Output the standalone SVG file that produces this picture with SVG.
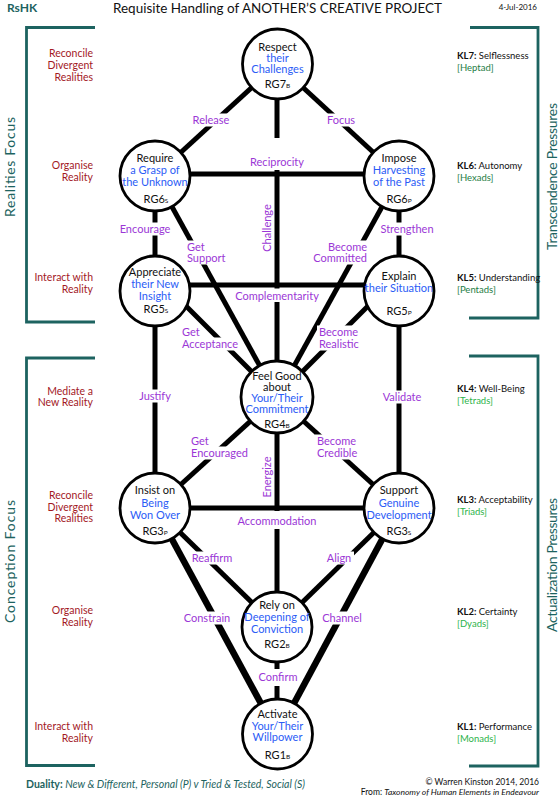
<svg xmlns="http://www.w3.org/2000/svg" width="559" height="800" viewBox="0 0 559 800">
<style>
text{font-family:Lato,"Open Sans","Liberation Sans",sans-serif}
.ln{stroke:#000;stroke-width:5;fill:none}
.lnw{stroke:#000;stroke-width:6.5;fill:none}
.bg{fill:#fff}
.lb{font-size:11px;fill:#9b37d6}
.c{text-anchor:middle}
.nc circle{fill:#fff;stroke:#000;stroke-width:2.8}
.nc text{text-anchor:middle;font-size:11px}
.k{fill:#111}
.u{fill:#2b5cf6}
.rg{font-size:9px;fill:#111}
.sub{font-size:6.5px}
.lt{font-size:10.5px;fill:#a3191f;text-anchor:end}
.kl{font-size:9.5px;fill:#111}
.klb{font-weight:bold}
.g1{font-size:9.5px;fill:#1e7d45}
.g2{font-size:9.5px;fill:#2db34a}
.br{stroke:#1d6360;stroke-width:2.8;fill:none}
.tl{fill:#1d6360}
.rot{font-size:14px;fill:#1d6360;text-anchor:middle}
</style>
<rect width="559" height="800" fill="#fff"/>

<g id="header">
<text x="7" y="12" class="tl" font-size="12" font-weight="bold">RsHK</text>
<text x="277.5" y="13" class="c" font-size="14" fill="#111" textLength="329" lengthAdjust="spacingAndGlyphs">Requisite Handling of ANOTHER’S CREATIVE PROJECT</text>
<text x="537" y="9.5" font-size="8" fill="#111" text-anchor="end">4-Jul-2016</text>
</g>

<g id="brackets">
<path class="br" d="M95,27.5 H26.5 V322 H95"/>
<path class="br" d="M95,358 H26.5 V765.5 H95"/>
<path class="br" d="M470,27.5 H538 V318 H469"/>
<path class="br" d="M469,356 H538 V766 H469"/>
<text class="rot" transform="translate(15,167) rotate(-90)" textLength="100" lengthAdjust="spacing">Realities  Focus</text>
<text class="rot" transform="translate(15,561.5) rotate(-90)" textLength="123" lengthAdjust="spacing">Conception  Focus</text>
<text class="rot" transform="translate(557,176.5) rotate(-90)" textLength="147" lengthAdjust="spacing">Transcendence  Pressures</text>
<text class="rot" transform="translate(557,565) rotate(-90)" textLength="134" lengthAdjust="spacing">Actualization  Pressures</text>
</g>

<g id="levels-left">
<text class="lt" x="93" y="57">Reconcile</text>
<text class="lt" x="93" y="69">Divergent</text>
<text class="lt" x="93" y="81">Realities</text>
<text class="lt" x="93" y="169">Organise</text>
<text class="lt" x="93" y="181">Reality</text>
<text class="lt" x="93" y="281">Interact with</text>
<text class="lt" x="93" y="293">Reality</text>
<text class="lt" x="93" y="395">Mediate a</text>
<text class="lt" x="93" y="406">New Reality</text>
<text class="lt" x="93" y="499">Reconcile</text>
<text class="lt" x="93" y="510.5">Divergent</text>
<text class="lt" x="93" y="522">Realities</text>
<text class="lt" x="93" y="614">Organise</text>
<text class="lt" x="93" y="626">Reality</text>
<text class="lt" x="93" y="730">Interact with</text>
<text class="lt" x="93" y="742">Reality</text>
</g>

<g id="levels-right">
<text class="kl" x="457" y="58.5"><tspan class="klb">KL7:</tspan> Selflessness</text>
<text class="g1" x="457" y="70.5">[Heptad]</text>
<text class="kl" x="457" y="168.5"><tspan class="klb">KL6:</tspan> Autonomy</text>
<text class="g1" x="457" y="180.5">[Hexads]</text>
<text class="kl" x="457" y="280.5"><tspan class="klb">KL5:</tspan> Understanding</text>
<text class="g1" x="457" y="292.5">[Pentads]</text>
<text class="kl" x="457" y="391.5"><tspan class="klb">KL4:</tspan> Well-Being</text>
<text class="g2" x="457" y="403.5">[Tetrads]</text>
<text class="kl" x="457" y="502.5"><tspan class="klb">KL3:</tspan> Acceptability</text>
<text class="g2" x="457" y="514.5">[Triads]</text>
<text class="kl" x="457" y="614.5"><tspan class="klb">KL2:</tspan> Certainty</text>
<text class="g2" x="457" y="626.5">[Dyads]</text>
<text class="kl" x="457" y="729.5"><tspan class="klb">KL1:</tspan> Performance</text>
<text class="g2" x="457" y="741.5">[Monads]</text>
</g>

<g id="connectors">
<line class="ln" x1="277.5" y1="64" x2="155" y2="176"/>
<line class="ln" x1="277.5" y1="64" x2="399" y2="176"/>
<line class="ln" x1="277" y1="64" x2="277" y2="397"/>
<line class="ln" x1="155" y1="174" x2="399" y2="174"/>
<line class="ln" x1="155" y1="176" x2="155" y2="291"/>
<line class="ln" x1="399" y1="176" x2="399" y2="291"/>
<line class="ln" x1="155" y1="176" x2="277" y2="397"/>
<line class="ln" x1="399" y1="176" x2="277" y2="397"/>
<line class="ln" x1="155" y1="285" x2="399" y2="285"/>
<line class="ln" x1="155" y1="275" x2="277" y2="397"/>
<line class="ln" x1="399" y1="275" x2="277" y2="397"/>
<line class="ln" x1="155" y1="291" x2="155" y2="508"/>
<line class="ln" x1="399" y1="291" x2="399" y2="508"/>
<line class="ln" x1="277" y1="397" x2="155" y2="508"/>
<line class="ln" x1="277" y1="397" x2="399" y2="508"/>
<line class="ln" x1="277" y1="397" x2="277" y2="627"/>
<line class="ln" x1="155" y1="508" x2="399" y2="508"/>
<line class="ln" x1="155" y1="508" x2="277" y2="627"/>
<line class="ln" x1="399" y1="508" x2="277" y2="627"/>
<line class="lnw" x1="155" y1="508" x2="277.5" y2="734"/>
<line class="lnw" x1="399" y1="508" x2="277.5" y2="734"/>
<line class="ln" x1="277" y1="627" x2="277" y2="734"/>

<rect class="bg" x="191" y="113.5" width="40" height="13"/>
<rect class="bg" x="325" y="113.5" width="31" height="13"/>
<rect class="bg" x="248" y="138" width="60" height="32"/>
<rect class="bg" x="118" y="222.5" width="54" height="13"/>
<rect class="bg" x="378" y="222.5" width="57" height="13"/>
<rect class="bg" x="185" y="240.5" width="17" height="13"/>
<rect class="bg" x="185" y="251.5" width="43" height="13"/>
<rect class="bg" x="326" y="240.5" width="43" height="13"/>
<rect class="bg" x="311" y="251.5" width="58" height="13"/>
<rect class="bg" x="233" y="288.5" width="87" height="13.5"/>
<rect class="bg" x="180" y="325.5" width="19" height="13"/>
<rect class="bg" x="180" y="337.5" width="59" height="13"/>
<rect class="bg" x="317" y="325.5" width="42" height="13"/>
<rect class="bg" x="317" y="337.5" width="42" height="13"/>
<rect class="bg" x="138" y="389.5" width="35" height="13"/>
<rect class="bg" x="381" y="390.5" width="42" height="13"/>
<rect class="bg" x="189" y="434.5" width="17" height="13"/>
<rect class="bg" x="189" y="446.5" width="61" height="13"/>
<rect class="bg" x="315" y="434.5" width="42" height="13"/>
<rect class="bg" x="315" y="446.5" width="44" height="13"/>
<rect class="bg" x="237" y="511" width="80" height="18"/>
<rect class="bg" x="191" y="551.5" width="43" height="13"/>
<rect class="bg" x="325" y="551.5" width="29" height="13"/>
<rect class="bg" x="182" y="611.5" width="50" height="13"/>
<rect class="bg" x="321" y="611.5" width="43" height="13"/>
<rect class="bg" x="257" y="669" width="42" height="17"/>

<text class="lb c" x="211" y="124">Release</text>
<text class="lb c" x="341" y="124">Focus</text>
<text class="lb c" x="277" y="166">Reciprocity</text>
<text class="lb c" x="145" y="233">Encourage</text>
<text class="lb c" x="407" y="233">Strengthen</text>
<text class="lb" x="187" y="251">Get</text>
<text class="lb" x="187" y="262">Support</text>
<text class="lb" x="367" y="251" text-anchor="end">Become</text>
<text class="lb" x="367" y="262" text-anchor="end">Committed</text>
<text class="lb" transform="translate(271,228) rotate(-90)" text-anchor="middle">Challenge</text>
<text class="lb c" x="277" y="300">Complementarity</text>
<text class="lb" x="182" y="336">Get</text>
<text class="lb" x="182" y="348">Acceptance</text>
<text class="lb" x="319" y="336">Become</text>
<text class="lb" x="319" y="348">Realistic</text>
<text class="lb c" x="155" y="400">Justify</text>
<text class="lb c" x="402" y="401">Validate</text>
<text class="lb" x="191" y="445">Get</text>
<text class="lb" x="191" y="457">Encouraged</text>
<text class="lb" x="317" y="445">Become</text>
<text class="lb" x="317" y="457">Credible</text>
<text class="lb" transform="translate(271,477) rotate(-90)" text-anchor="middle">Energize</text>
<text class="lb c" x="277" y="525">Accommodation</text>
<text class="lb c" x="212" y="562">Reaffirm</text>
<text class="lb c" x="339" y="562">Align</text>
<text class="lb c" x="207" y="622">Constrain</text>
<text class="lb c" x="342" y="622">Channel</text>
<text class="lb c" x="278" y="681">Confirm</text>
</g>

<g id="RG7B" class="nc">
<circle cx="277.5" cy="64" r="35"/>
<text x="277.5" y="51" class="k">Respect</text>
<text x="277.5" y="62" class="u">their</text>
<text x="277.5" y="73" class="u">Challenges</text>
<text x="277.5" y="88" class="rg">RG7<tspan class="sub">B</tspan></text>
</g>
<g id="RG6S" class="nc">
<circle cx="155" cy="176" r="35"/>
<text x="155" y="162" class="k">Require</text>
<text x="155" y="174" class="u">a Grasp of</text>
<text x="155" y="186" class="u">the Unknown</text>
<text x="156" y="203" class="rg">RG6<tspan class="sub">S</tspan></text>
</g>
<g id="RG6P" class="nc">
<circle cx="399" cy="176" r="35"/>
<text x="399" y="162" class="k">Impose</text>
<text x="399" y="174" class="u">Harvesting</text>
<text x="399" y="186" class="u">of the Past</text>
<text x="399" y="203" class="rg">RG6<tspan class="sub">P</tspan></text>
</g>
<g id="RG5S" class="nc">
<circle cx="155" cy="291" r="35"/>
<text x="155" y="276" class="k">Appreciate</text>
<text x="155" y="288" class="u">their New</text>
<text x="155" y="300" class="u">Insight</text>
<text x="156" y="313" class="rg">RG5<tspan class="sub">S</tspan></text>
</g>
<g id="RG5P" class="nc">
<circle cx="399" cy="291" r="35"/>
<text x="399" y="280" class="k">Explain</text>
<text x="399" y="292" class="u">their Situation</text>
<text x="399" y="315" class="rg">RG5<tspan class="sub">P</tspan></text>
</g>
<g id="RG4B" class="nc">
<circle cx="277" cy="397" r="36"/>
<text x="277" y="380" class="k">Feel Good</text>
<text x="277" y="391" class="k">about</text>
<text x="277" y="402" class="u">Your/Their</text>
<text x="277" y="413" class="u">Commitment</text>
<text x="277" y="428" class="rg">RG4<tspan class="sub">B</tspan></text>
</g>
<g id="RG3P" class="nc">
<circle cx="155" cy="508" r="35"/>
<text x="155" y="494" class="k">Insist on</text>
<text x="155" y="507" class="u">Being</text>
<text x="155" y="519" class="u">Won Over</text>
<text x="155" y="535" class="rg">RG3<tspan class="sub">P</tspan></text>
</g>
<g id="RG3S" class="nc">
<circle cx="399" cy="508" r="35"/>
<text x="399" y="494" class="k">Support</text>
<text x="399" y="507" class="u">Genuine</text>
<text x="399" y="519" class="u">Development</text>
<text x="399" y="535" class="rg">RG3<tspan class="sub">S</tspan></text>
</g>
<g id="RG2B" class="nc">
<circle cx="277" cy="627" r="35"/>
<text x="277" y="609" class="k">Rely on</text>
<text x="277" y="621" class="u">Deepening of</text>
<text x="277" y="633" class="u">Conviction</text>
<text x="277" y="648" class="rg">RG2<tspan class="sub">B</tspan></text>
</g>
<g id="RG1B" class="nc">
<circle cx="277.5" cy="734" r="35"/>
<text x="277.5" y="718" class="k">Activate</text>
<text x="277.5" y="730" class="u">Your/Their</text>
<text x="277.5" y="741" class="u">Willpower</text>
<text x="277.5" y="759" class="rg">RG1<tspan class="sub">B</tspan></text>
</g>

<g id="footer">
<text x="26" y="788" class="tl" font-size="10.5"><tspan font-weight="bold">Duality:</tspan>  <tspan font-style="italic">New &amp; Different, Personal (P) v Tried &amp; Tested, Social (S)</tspan></text>
<text x="539" y="785" font-size="8.5" fill="#111" text-anchor="end">© Warren Kinston 2014, 2016</text>
<text x="539" y="795" font-size="8.5" fill="#111" text-anchor="end">From: <tspan font-style="italic">Taxonomy of Human Elements in Endeavour</tspan></text>
</g>
</svg>
